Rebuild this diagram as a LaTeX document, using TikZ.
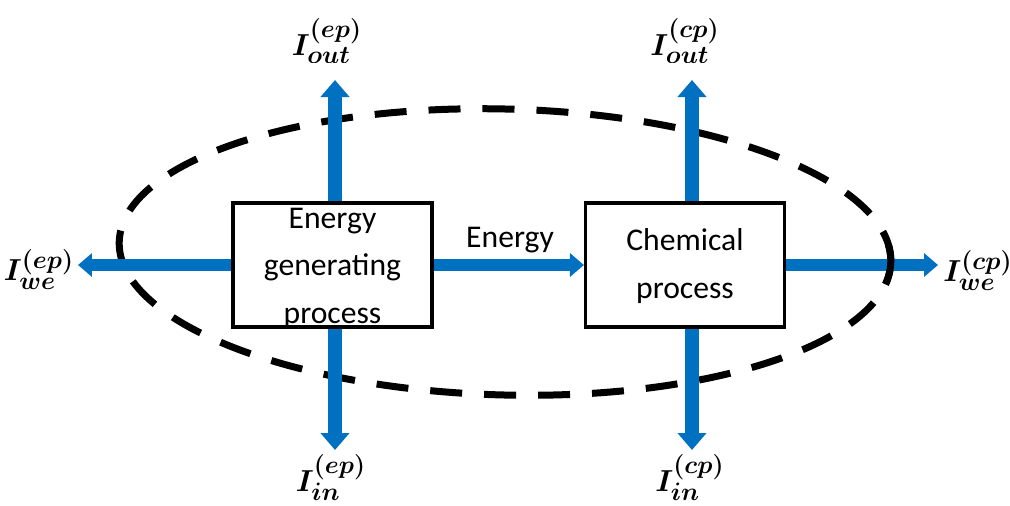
\documentclass[tikz,border=0pt]{standalone}
\usepackage{fontspec}
\setmainfont{Carlito}
\usetikzlibrary{arrows.meta}
\definecolor{arrowblue}{HTML}{0070C0}
\DeclareMathSizes{19}{19}{15}{12}
\begin{document}
\begin{tikzpicture}[x=0.02cm,y=-0.02cm,
  box/.style={draw=black,line width=1.8pt,fill=white,minimum width=3.98cm,minimum height=2.48cm,inner sep=0pt},
  boxtext/.style={align=center,font=\fontsize{18}{27}\selectfont,inner sep=0pt},
  harrow/.style={draw=arrowblue,line width=0.24cm,-{Triangle[width=0.46cm,length=0.28cm]}},
  varrow/.style={draw=arrowblue,line width=0.28cm,-{Triangle[width=0.56cm,length=0.34cm]}},
  flow/.style={font=\fontsize{19}{21}\selectfont\boldmath,inner sep=0pt},
  boundary/.style={draw=black,line width=0.14cm,dash pattern=on 0.64cm off 0.44cm}]
\useasboundingbox (0,0) rectangle (1010,505);
% system boundary
\draw[boundary,rotate around={-1.5:(505,252)}] (505,252) ellipse [x radius=7.72cm, y radius=2.86cm];
% process boxes
\node[box] (ep) at (332.5,265) {};
\node[box] (cp) at (685,265) {};
\node[boxtext] (eptext) at (332.5,268) {Energy\\generating\\process};
\node[boxtext] (cptext) at (685,266) {Chemical\\process};
% free ends
\coordinate (weep) at (78,265);
\coordinate (wecp) at (938,265);
\coordinate (outep) at (335,80);
\coordinate (outcp) at (692,80);
\coordinate (inep) at (335,450);
\coordinate (incp) at (692,450);
% flows
\draw[harrow] (ep.west) -- (weep);
\draw[harrow] (ep.east) -- (cp.west);
\draw[harrow] (cp.east) -- (wecp);
\draw[varrow] (ep.north -| outep) -- (outep);
\draw[varrow] (ep.south -| inep) -- (inep);
\draw[varrow] (cp.north -| outcp) -- (outcp);
\draw[varrow] (cp.south -| incp) -- (incp);
% boundary dash crossing over the right arrow
\begin{scope}
\clip (860,245) rectangle (910,285);
\draw[boundary,rotate around={-1.5:(505,252)}] (505,252) ellipse [x radius=7.72cm, y radius=2.86cm];
\end{scope}
% labels
\node[font=\fontsize{18}{20}\selectfont,anchor=base,inner sep=0pt] (elabel) at (510,247) {Energy};
\node[flow,anchor=base] (lweep) at (39,280) {$I^{(ep)}_{we}$};
\node[flow,anchor=base] (lwecp) at (978,281) {$I^{(cp)}_{we}$};
\node[flow,anchor=base] (linep) at (331,491) {$I^{(ep)}_{in}$};
\node[flow,anchor=base] (lincp) at (690,491) {$I^{(cp)}_{in}$};
\begin{scope}
\clip (250,0) rectangle (760,62);
\node[flow,anchor=base] (loutep) at (327,55) {$I^{(ep)}_{out}$};
\node[flow,anchor=base] (loutcp) at (685,55) {$I^{(cp)}_{out}$};
\end{scope}
\end{tikzpicture}
\end{document}
